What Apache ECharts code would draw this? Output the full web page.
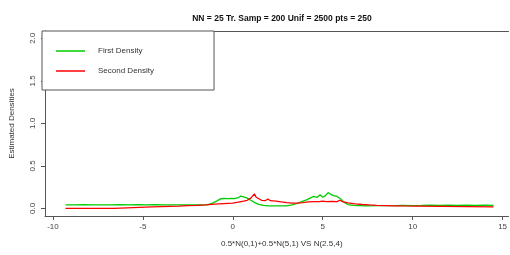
<!DOCTYPE html>
<html>
<head>
<meta charset="utf-8">
<script src="https://cdn.jsdelivr.net/npm/echarts@6/dist/echarts.min.js"></script>
<style>
html, body { margin: 0; padding: 0; background: #fff; }
#chart { width: 510px; height: 255px; }
</style>
</head>
<body>
<div id="chart"></div>
<script>
// tick values
var xTicks = [-10, -5, 0, 5, 10, 15];
var yTicks = [0, 0.5, 1, 1.5, 2];

// First Density (green)
var greenX = [-9.3, -8.8, -8.3, -7.8, -7.3, -6.8, -6.3, -5.8, -5.3, -4.8, -4.3, -3.8, -3.3, -2.8, -2.3, -1.8,
    -1.5, -1.3, -1.1, -0.9, -0.7, -0.5, -0.3, -0.1, 0.1, 0.3, 0.45, 0.6, 0.8, 1.0, 1.2, 1.4, 1.7, 2.0, 2.5,
    3.0, 3.3, 3.6, 3.9, 4.1, 4.3, 4.5, 4.7, 4.85, 5.0, 5.15, 5.3, 5.45, 5.6, 5.8, 6.0, 6.2, 6.4, 6.7, 7.0,
    7.5, 8.0, 8.5, 9.0, 9.5, 10.0, 10.5, 11.0, 11.5, 12.0, 12.5, 13.0, 13.5, 14.0, 14.5];
var greenY = [0.042, 0.040, 0.043, 0.040, 0.042, 0.040, 0.044, 0.041, 0.044, 0.041, 0.043, 0.040, 0.042, 0.040, 0.041, 0.040,
    0.042, 0.048, 0.065, 0.085, 0.110, 0.118, 0.115, 0.118, 0.115, 0.125, 0.145, 0.135, 0.120, 0.095, 0.070, 0.050, 0.035, 0.030, 0.028,
    0.030, 0.040, 0.060, 0.085, 0.100, 0.120, 0.140, 0.130, 0.160, 0.130, 0.150, 0.185, 0.165, 0.150, 0.140, 0.110, 0.070, 0.045, 0.035, 0.033,
    0.030, 0.032, 0.033, 0.032, 0.034, 0.033, 0.035, 0.038, 0.035, 0.037, 0.035, 0.038, 0.035, 0.037, 0.035];

// Second Density (red)
var redX = [-9.3, -6.6, -6.6, -4.5, -4.4, -3.0, -2.5, -2.0, -1.5, -1.0, -0.5, 0.0, 0.3, 0.6, 0.8, 1.0, 1.1, 1.2,
    1.3, 1.4, 1.6, 1.8, 1.95, 2.1, 2.4, 2.7, 3.0, 3.3, 3.6, 3.9, 4.2, 4.5, 4.8, 5.0, 5.2, 5.5, 5.8, 5.95, 6.1,
    6.4, 6.8, 7.2, 7.6, 8.0, 8.5, 9.0, 9.5, 10.2, 10.25, 14.5];
var redY = [0.0, 0.0, 0.018, 0.018, 0.024, 0.026, 0.032, 0.036, 0.042, 0.050, 0.056, 0.062, 0.072, 0.085, 0.095, 0.120, 0.140, 0.170,
    0.130, 0.110, 0.095, 0.090, 0.110, 0.090, 0.085, 0.075, 0.068, 0.062, 0.062, 0.068, 0.075, 0.080, 0.078, 0.085, 0.078, 0.082, 0.080, 0.095, 0.080,
    0.065, 0.052, 0.045, 0.040, 0.036, 0.033, 0.030, 0.028, 0.027, 0.018, 0.018];

function pairs(xs, ys) {
    return xs.map(function (x, i) { return [x, ys[i]]; });
}

var chart = echarts.init(document.getElementById('chart'));
var option = {
    animation: false,
    textStyle: { fontFamily: 'Liberation Sans' },
    title: {
        text: 'NN = 25 Tr. Samp = 200 Unif = 2500 pts = 250',
        left: 277,
        textAlign: 'center',
        top: 9,
        textStyle: { fontSize: 8.5, fontWeight: 'bold', color: '#111' }
    },
    legend: {
        orient: 'vertical',
        left: 42,
        top: 31,
        padding: [16, 60, 15, 14],
        itemGap: 12,
        itemWidth: 29,
        itemHeight: 1.5,
        icon: 'rect',
        borderColor: '#555',
        borderWidth: 1,
        backgroundColor: '#fff',
        textStyle: { fontSize: 8, color: '#333', padding: [0, 0, 0, 8] },
        data: ['First Density', 'Second Density']
    },
    grid: {
        left: 42,
        right: 0,
        top: 31,
        bottom: 39
    },
    xAxis: [{
        type: 'value',
        min: -10.44,
        max: 15.33,
        name: '0.5*N(0,1)+0.5*N(5,1) VS N(2.5,4)',
        nameLocation: 'middle',
        nameGap: 24,
        nameTextStyle: { fontSize: 8, color: '#333', padding: [0, 0, 0, 10] },
        axisLine: { onZero: false, lineStyle: { color: '#555' } },
        axisTick: { length: 4, customValues: xTicks, lineStyle: { color: '#555' } },
        axisLabel: { customValues: xTicks, fontSize: 8, color: '#444', margin: 7 },
        splitLine: { show: false }
    }, {
        // top edge of the plot box
        type: 'value',
        position: 'top',
        min: -10.44,
        max: 15.33,
        axisLine: { show: true, onZero: false, lineStyle: { color: '#555' } },
        axisTick: { show: false },
        axisLabel: { show: false },
        splitLine: { show: false }
    }],
    yAxis: {
        type: 'value',
        min: -0.09,
        max: 2.086,
        name: 'Estimated Densities',
        nameLocation: 'middle',
        nameGap: 29,
        nameTextStyle: { fontSize: 8, color: '#333' },
        axisLine: { show: true, onZero: false, lineStyle: { color: '#555' } },
        axisTick: { show: true, length: 4, customValues: yTicks, lineStyle: { color: '#555' } },
        axisLabel: {
            customValues: yTicks, fontSize: 8, color: '#444', margin: 8, rotate: 90,
            formatter: function (v) { return v.toFixed(1); }
        },
        splitLine: { show: false }
    },
    series: [
        {
            name: 'First Density',
            type: 'line',
            symbol: 'none',
            color: '#00cd00',
            lineStyle: { width: 1.3, color: '#00cd00' },
            data: pairs(greenX, greenY)
        },
        {
            name: 'Second Density',
            type: 'line',
            symbol: 'none',
            color: '#ff0000',
            lineStyle: { width: 1.3, color: '#ff0000' },
            data: pairs(redX, redY)
        }
    ]
};
chart.setOption(option);
</script>
</body>
</html>
